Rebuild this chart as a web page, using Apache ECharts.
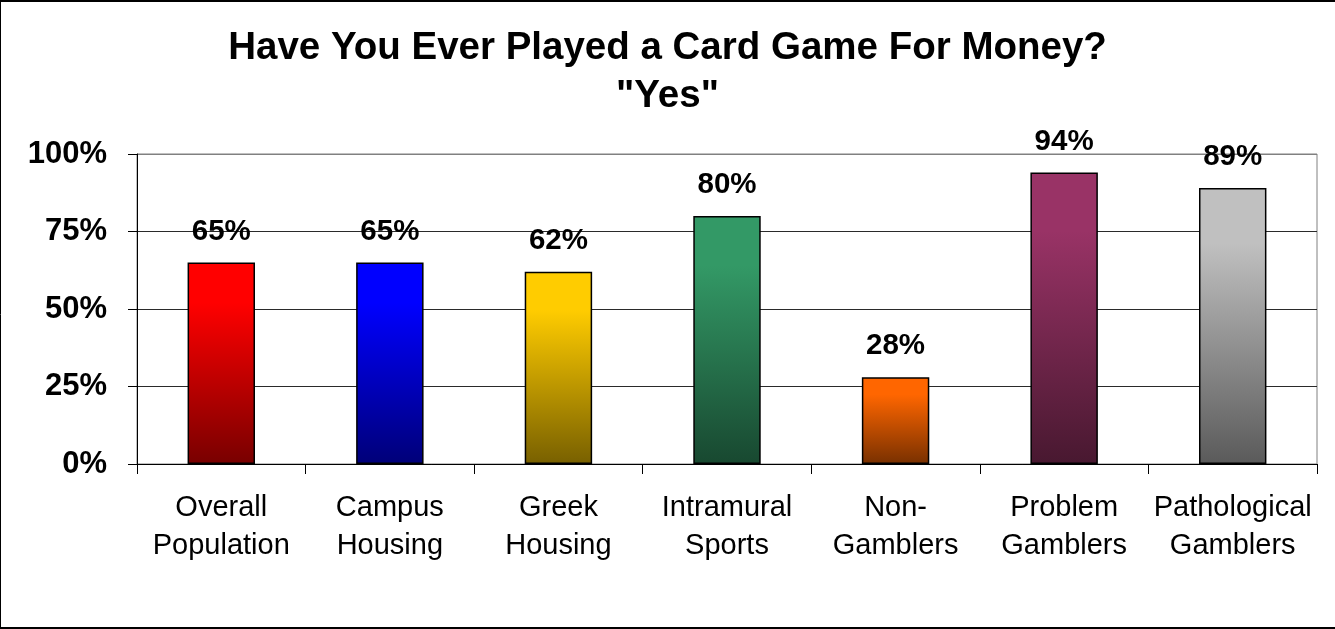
<!DOCTYPE html>
<html>
<head>
<meta charset="utf-8">
<script src="https://cdn.jsdelivr.net/npm/echarts@6/dist/echarts.min.js"></script>
<style>
  html, body { margin: 0; padding: 0; background: #fff; }
  #chart { width: 1335px; height: 629px; }
</style>
</head>
<body>
<div id="chart"></div>
<script>
// Share of each group answering "Yes"
const categories = [
  'Overall\nPopulation',
  'Campus\nHousing',
  'Greek\nHousing',
  'Intramural\nSports',
  'Non-\nGamblers',
  'Problem\nGamblers',
  'Pathological\nGamblers'
];
const values = [65, 65, 62, 80, 28, 94, 89];
const yTicks = [0, 25, 50, 75, 100];

// Top / bottom colours of each bar's vertical gradient
const topColors = ['#ff0000', '#0000ff', '#ffcc00', '#339966', '#ff6600', '#993366', '#c0c0c0'];
const bottomColors = ['#780000', '#000078', '#786000', '#184830', '#783000', '#481830', '#5a5a5a'];

const chart = echarts.init(document.getElementById('chart'), null, { renderer: 'canvas' });

const barData = values.map((v, i) => ({
  value: v,
  itemStyle: {
    color: new echarts.graphic.LinearGradient(0, 0, 0, 1, [
      { offset: 0, color: topColors[i] },
      { offset: 0.2, color: topColors[i] },
      { offset: 1, color: bottomColors[i] }
    ])
  }
}));

// grid lines are dark; the one on top doubles as the grey plot frame
const splitColors = yTicks.map((t, i) => (i === yTicks.length - 1 ? '#808080' : '#2a2a2a'));

chart.setOption({
  animation: false,
  backgroundColor: '#ffffff',
  title: {
    text: 'Have You Ever Played a Card Game For Money?\n"Yes"',
    left: 'center',
    top: 19,
    textStyle: {
      fontFamily: 'Liberation Sans, Arial, sans-serif',
      fontWeight: 'bold',
      fontSize: 38.5,
      lineHeight: 48,
      color: '#000'
    }
  },
  grid: {
    left: 137,
    right: 18,
    top: 154,
    bottom: 165,
    show: true,
    borderColor: '#808080',
    borderWidth: 1,
    containLabel: false
  },
  xAxis: {
    type: 'category',
    data: categories,
    boundaryGap: true,
    axisLine: { lineStyle: { color: '#000', width: 1 } },
    axisTick: { show: true, length: 10, alignWithLabel: false, lineStyle: { color: '#000' } },
    axisLabel: {
      interval: 0,
      margin: 25,
      fontFamily: 'Liberation Sans, Arial, sans-serif',
      fontSize: 29,
      lineHeight: 38,
      color: '#000'
    }
  },
  yAxis: {
    type: 'value',
    min: yTicks[0],
    max: yTicks[yTicks.length - 1],
    interval: yTicks[1] - yTicks[0],
    axisLine: { show: true, lineStyle: { color: '#000', width: 1 } },
    axisTick: { show: true, inside: false, length: 9, lineStyle: { color: '#000' } },
    splitLine: { show: true, lineStyle: { color: splitColors, width: 1 } },
    axisLabel: {
      margin: 30,
      formatter: '{value}%',
      fontFamily: 'Liberation Sans, Arial, sans-serif',
      fontWeight: 'bold',
      fontSize: 31,
      color: '#000'
    }
  },
  series: [{
    type: 'bar',
    data: barData,
    barWidth: '40%',
    itemStyle: { borderColor: '#000', borderWidth: 1.5 },
    label: {
      show: true,
      position: 'top',
      distance: 16,
      formatter: '{c}%',
      fontFamily: 'Liberation Sans, Arial, sans-serif',
      fontWeight: 'bold',
      fontSize: 29.5,
      color: '#000'
    }
  }],
  graphic: [
    { type: 'line', shape: { x1: 0, y1: 1, x2: 1335, y2: 1 }, style: { stroke: '#000', lineWidth: 2 }, z: 100 },
    { type: 'line', shape: { x1: 0.5, y1: 0, x2: 0.5, y2: 629 }, style: { stroke: '#000', lineWidth: 1 }, z: 100 },
    { type: 'line', shape: { x1: 0, y1: 628, x2: 1335, y2: 628 }, style: { stroke: '#000', lineWidth: 2 }, z: 100 }
  ]
});
</script>
</body>
</html>
